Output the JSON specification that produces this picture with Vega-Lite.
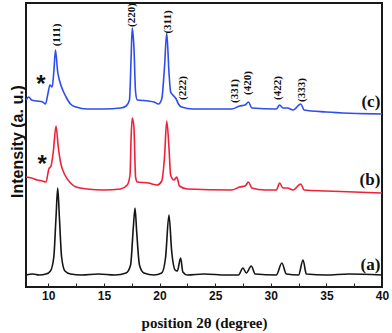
{
  "$schema": "https://vega.github.io/schema/vega-lite/v6.json",
  "width": 356,
  "height": 284,
  "autosize": {"type": "none"},
  "padding": {"left": 26, "top": 3, "right": 10, "bottom": 46},
  "background": "white",
  "config": {
    "view": {"stroke": "#1a1a1a", "strokeWidth": 2},
    "axis": {"grid": false}
  },
  "datasets": {
    "xrd": [
      {"s": "a", "x": 8.0, "y": 12}, {"s": "a", "x": 8.6, "y": 13}, {"s": "a", "x": 9.2, "y": 12}, {"s": "a", "x": 9.8, "y": 13},
      {"s": "a", "x": 10.2, "y": 16}, {"s": "a", "x": 10.5, "y": 30}, {"s": "a", "x": 10.7, "y": 70}, {"s": "a", "x": 10.85, "y": 99},
      {"s": "a", "x": 11.0, "y": 70}, {"s": "a", "x": 11.2, "y": 30}, {"s": "a", "x": 11.5, "y": 16}, {"s": "a", "x": 12.0, "y": 13},
      {"s": "a", "x": 13.0, "y": 12}, {"s": "a", "x": 14.5, "y": 13}, {"s": "a", "x": 16.0, "y": 12}, {"s": "a", "x": 17.0, "y": 14},
      {"s": "a", "x": 17.4, "y": 22}, {"s": "a", "x": 17.65, "y": 60}, {"s": "a", "x": 17.8, "y": 79}, {"s": "a", "x": 17.95, "y": 55},
      {"s": "a", "x": 18.2, "y": 22}, {"s": "a", "x": 18.6, "y": 14}, {"s": "a", "x": 19.5, "y": 12}, {"s": "a", "x": 20.2, "y": 14},
      {"s": "a", "x": 20.55, "y": 30}, {"s": "a", "x": 20.85, "y": 72}, {"s": "a", "x": 21.1, "y": 35}, {"s": "a", "x": 21.4, "y": 17},
      {"s": "a", "x": 21.6, "y": 16}, {"s": "a", "x": 21.9, "y": 29}, {"s": "a", "x": 22.1, "y": 15}, {"s": "a", "x": 22.5, "y": 12},
      {"s": "a", "x": 24.0, "y": 13}, {"s": "a", "x": 26.0, "y": 12}, {"s": "a", "x": 27.1, "y": 12}, {"s": "a", "x": 27.5, "y": 19},
      {"s": "a", "x": 27.8, "y": 14}, {"s": "a", "x": 28.25, "y": 21}, {"s": "a", "x": 28.6, "y": 13}, {"s": "a", "x": 30.5, "y": 12},
      {"s": "a", "x": 31.0, "y": 24}, {"s": "a", "x": 31.4, "y": 13}, {"s": "a", "x": 32.5, "y": 12}, {"s": "a", "x": 32.9, "y": 27},
      {"s": "a", "x": 33.2, "y": 13}, {"s": "a", "x": 35.0, "y": 12}, {"s": "a", "x": 37.0, "y": 13}, {"s": "a", "x": 40.0, "y": 12},

      {"s": "b", "x": 8.0, "y": 110}, {"s": "b", "x": 8.5, "y": 109}, {"s": "b", "x": 9.0, "y": 107}, {"s": "b", "x": 9.5, "y": 106},
      {"s": "b", "x": 9.8, "y": 105}, {"s": "b", "x": 10.05, "y": 118}, {"s": "b", "x": 10.25, "y": 121}, {"s": "b", "x": 10.45, "y": 135},
      {"s": "b", "x": 10.7, "y": 161}, {"s": "b", "x": 10.9, "y": 140}, {"s": "b", "x": 11.1, "y": 125}, {"s": "b", "x": 11.5, "y": 112},
      {"s": "b", "x": 12.0, "y": 104}, {"s": "b", "x": 12.5, "y": 100}, {"s": "b", "x": 13.5, "y": 98}, {"s": "b", "x": 15.0, "y": 97},
      {"s": "b", "x": 16.5, "y": 98}, {"s": "b", "x": 17.1, "y": 102}, {"s": "b", "x": 17.35, "y": 112}, {"s": "b", "x": 17.45, "y": 150},
      {"s": "b", "x": 17.55, "y": 169}, {"s": "b", "x": 17.7, "y": 160}, {"s": "b", "x": 17.85, "y": 110}, {"s": "b", "x": 18.0, "y": 105},
      {"s": "b", "x": 19.0, "y": 104}, {"s": "b", "x": 19.8, "y": 102}, {"s": "b", "x": 20.2, "y": 106}, {"s": "b", "x": 20.45, "y": 130},
      {"s": "b", "x": 20.65, "y": 166}, {"s": "b", "x": 20.85, "y": 140}, {"s": "b", "x": 21.0, "y": 112}, {"s": "b", "x": 21.3, "y": 107},
      {"s": "b", "x": 21.55, "y": 110}, {"s": "b", "x": 21.8, "y": 101}, {"s": "b", "x": 22.5, "y": 98}, {"s": "b", "x": 26.5, "y": 97},
      {"s": "b", "x": 27.2, "y": 100}, {"s": "b", "x": 27.7, "y": 101}, {"s": "b", "x": 28.0, "y": 105}, {"s": "b", "x": 28.3, "y": 99},
      {"s": "b", "x": 29.5, "y": 97}, {"s": "b", "x": 30.5, "y": 97}, {"s": "b", "x": 30.8, "y": 104}, {"s": "b", "x": 31.1, "y": 99},
      {"s": "b", "x": 31.5, "y": 99}, {"s": "b", "x": 32.0, "y": 97}, {"s": "b", "x": 32.7, "y": 103}, {"s": "b", "x": 33.0, "y": 97},
      {"s": "b", "x": 35.0, "y": 96}, {"s": "b", "x": 40.0, "y": 94},

      {"s": "c", "x": 8.0, "y": 187}, {"s": "c", "x": 8.25, "y": 190}, {"s": "c", "x": 8.5, "y": 187}, {"s": "c", "x": 9.0, "y": 186},
      {"s": "c", "x": 9.5, "y": 185}, {"s": "c", "x": 9.75, "y": 183}, {"s": "c", "x": 10.0, "y": 195}, {"s": "c", "x": 10.15, "y": 202},
      {"s": "c", "x": 10.35, "y": 200}, {"s": "c", "x": 10.5, "y": 215}, {"s": "c", "x": 10.65, "y": 237}, {"s": "c", "x": 10.85, "y": 215},
      {"s": "c", "x": 11.0, "y": 207}, {"s": "c", "x": 11.3, "y": 197}, {"s": "c", "x": 11.6, "y": 190}, {"s": "c", "x": 12.0, "y": 183},
      {"s": "c", "x": 12.5, "y": 180}, {"s": "c", "x": 13.5, "y": 178}, {"s": "c", "x": 15.0, "y": 178}, {"s": "c", "x": 16.5, "y": 179},
      {"s": "c", "x": 17.0, "y": 181}, {"s": "c", "x": 17.3, "y": 187}, {"s": "c", "x": 17.45, "y": 230}, {"s": "c", "x": 17.55, "y": 259},
      {"s": "c", "x": 17.7, "y": 240}, {"s": "c", "x": 17.85, "y": 195}, {"s": "c", "x": 18.0, "y": 187}, {"s": "c", "x": 19.0, "y": 186},
      {"s": "c", "x": 19.5, "y": 185}, {"s": "c", "x": 19.9, "y": 183}, {"s": "c", "x": 20.2, "y": 188}, {"s": "c", "x": 20.45, "y": 220},
      {"s": "c", "x": 20.65, "y": 254}, {"s": "c", "x": 20.85, "y": 215}, {"s": "c", "x": 21.0, "y": 195}, {"s": "c", "x": 21.2, "y": 192},
      {"s": "c", "x": 21.5, "y": 188}, {"s": "c", "x": 21.7, "y": 183}, {"s": "c", "x": 22.0, "y": 180}, {"s": "c", "x": 23.0, "y": 178},
      {"s": "c", "x": 26.5, "y": 178}, {"s": "c", "x": 27.2, "y": 181}, {"s": "c", "x": 27.7, "y": 182}, {"s": "c", "x": 28.0, "y": 185},
      {"s": "c", "x": 28.3, "y": 179}, {"s": "c", "x": 30.5, "y": 178}, {"s": "c", "x": 30.8, "y": 182}, {"s": "c", "x": 31.1, "y": 179},
      {"s": "c", "x": 31.5, "y": 179}, {"s": "c", "x": 32.0, "y": 177}, {"s": "c", "x": 32.7, "y": 183}, {"s": "c", "x": 33.0, "y": 177},
      {"s": "c", "x": 35.0, "y": 175}, {"s": "c", "x": 40.0, "y": 173}
    ],
    "peaks": [
      {"x": 10.8, "y": 252, "t": "(111)"},
      {"x": 17.5, "y": 272, "t": "(220)"},
      {"x": 20.75, "y": 265, "t": "(311)"},
      {"x": 22.1, "y": 199, "t": "(222)"},
      {"x": 26.8, "y": 196, "t": "(331)"},
      {"x": 27.95, "y": 204, "t": "(420)"},
      {"x": 30.65, "y": 199, "t": "(422)"},
      {"x": 32.8, "y": 197, "t": "(333)"}
    ],
    "series": [
      {"x": 39.85, "y": 185, "t": "(c)"},
      {"x": 39.85, "y": 107, "t": "(b)"},
      {"x": 39.85, "y": 22, "t": "(a)"}
    ],
    "stars": [
      {"x": 9.35, "y": 207, "t": "*"},
      {"x": 9.45, "y": 127, "t": "*"}
    ]
  },
  "encoding": {
    "x": {
      "field": "x", "type": "quantitative",
      "scale": {"domain": [8, 40], "nice": false, "zero": false},
      "axis": {
        "title": "position 2θ (degree)",
        "titleFont": "Times New Roman, Liberation Serif, serif", "titleFontWeight": "bold", "titleFontSize": 15, "titleColor": "#111",
        "titlePadding": 14,
        "values": [10, 12.5, 15, 17.5, 20, 22.5, 25, 27.5, 30, 32.5, 35, 37.5, 40],
        "labelExpr": "datum.value % 5 === 0 ? datum.label : ''",
        "labelFont": "Arial, Liberation Sans, sans-serif", "labelFontWeight": "bold", "labelFontSize": 12, "labelColor": "#111",
        "tickSize": -4, "tickColor": "#222", "tickWidth": 1, "labelPadding": 7,
        "domain": false, "labelFlush": false
      }
    },
    "y": {
      "field": "y", "type": "quantitative",
      "scale": {"domain": [0, 284], "nice": false},
      "axis": {
        "title": "Intensity (a. u.)",
        "titleFont": "Arial, Liberation Sans, sans-serif", "titleFontWeight": "bold", "titleFontSize": 16, "titleColor": "#111",
        "titleAngle": -90, "titleX": -9, "titleY": 138, "titleBaseline": "middle", "titleAlign": "center",
        "ticks": false, "labels": false, "domain": false
      }
    }
  },
  "layer": [
    {
      "data": {"name": "xrd"},
      "mark": {"type": "line", "strokeWidth": 1.6, "interpolate": "monotone"},
      "encoding": {
        "color": {
          "field": "s", "type": "nominal",
          "scale": {"domain": ["a", "b", "c"], "range": ["#151515", "#f0203a", "#2f4cf0"]},
          "legend": null
        }
      }
    },
    {
      "data": {"name": "peaks"},
      "mark": {"type": "text", "angle": 270, "align": "center", "baseline": "middle", "font": "Times New Roman, Liberation Serif, serif", "fontWeight": "bold", "fontSize": 11, "color": "#111"},
      "encoding": {"text": {"field": "t"}}
    },
    {
      "data": {"name": "series"},
      "mark": {"type": "text", "align": "right", "baseline": "middle", "font": "Times New Roman, Liberation Serif, serif", "fontWeight": "bold", "fontSize": 17, "color": "#111"},
      "encoding": {"text": {"field": "t"}}
    },
    {
      "data": {"name": "stars"},
      "mark": {"type": "text", "align": "center", "baseline": "middle", "dy": 5, "font": "Arial, Liberation Sans, sans-serif", "fontWeight": "bold", "fontSize": 24, "color": "#111"},
      "encoding": {"text": {"field": "t"}}
    }
  ]
}
